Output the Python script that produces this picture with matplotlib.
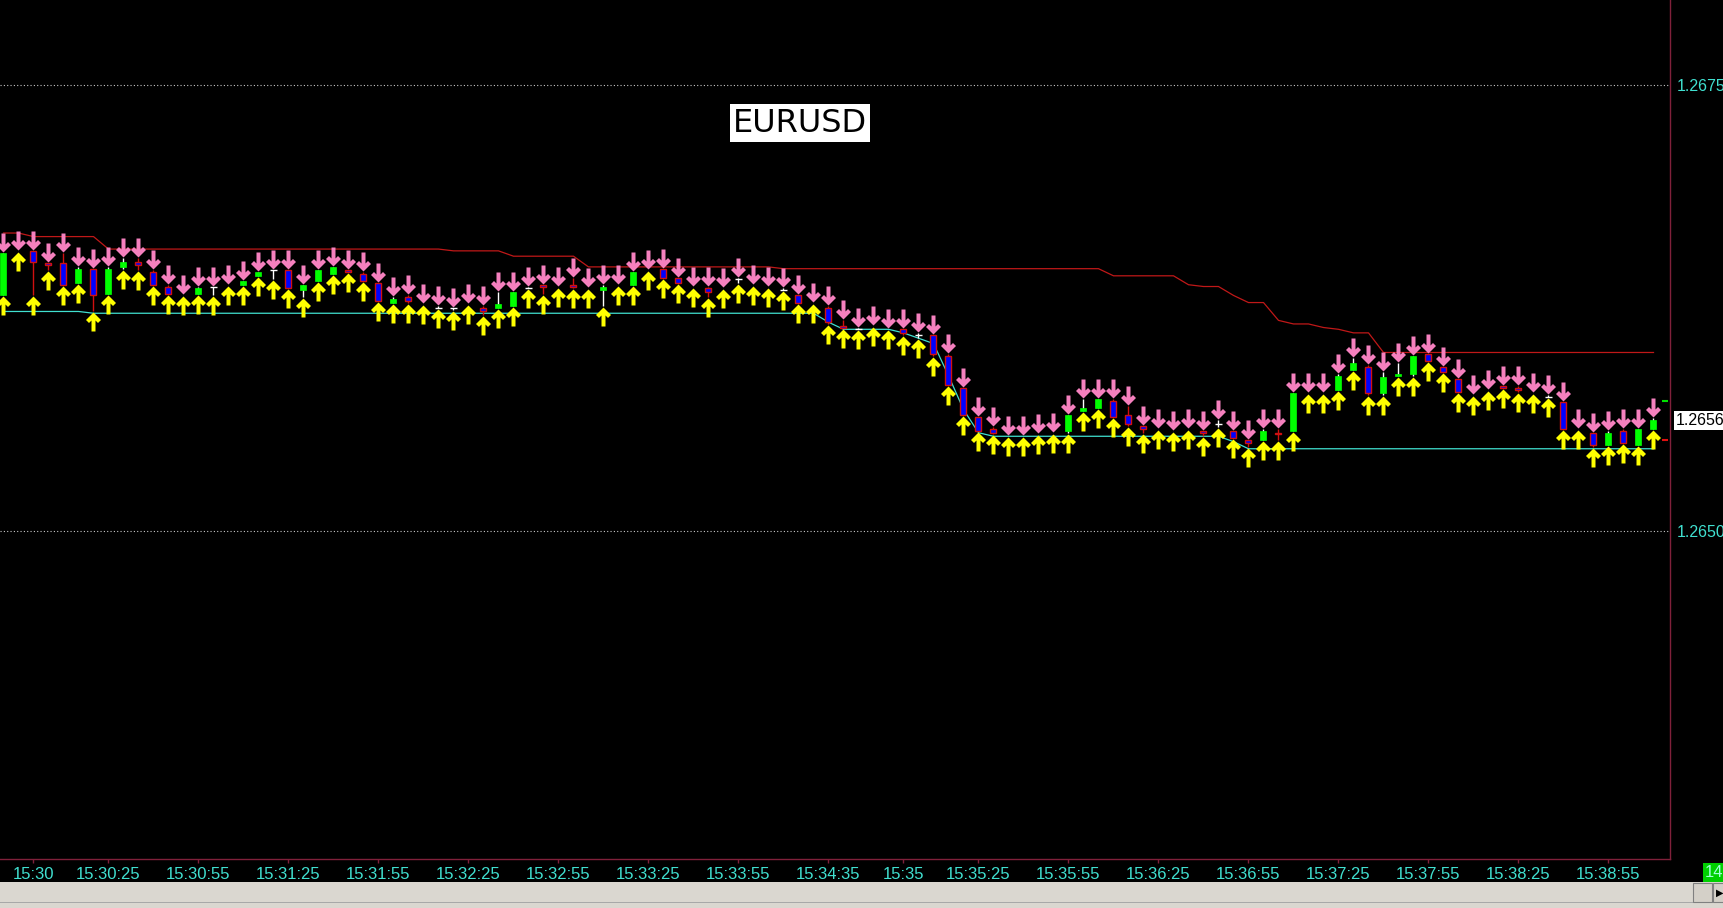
import numpy as np
import matplotlib.pyplot as plt
from matplotlib.path import Path
from matplotlib.patches import Rectangle

# EURUSD 5-second bars
opens = [1.26632, 1.26657, 1.26657, 1.26650, 1.26650, 1.26639, 1.26647, 1.26633, 1.26648, 1.26651,
         1.26645, 1.26637, 1.26632, 1.26633, 1.26637, 1.26638, 1.26638, 1.26643, 1.26646, 1.26646,
         1.26635, 1.26640, 1.26644, 1.26646, 1.26644, 1.26639, 1.26628, 1.26631, 1.26627, 1.26625,
         1.26625, 1.26627, 1.26625, 1.26625, 1.26626, 1.26636, 1.26638, 1.26637, 1.26638, 1.26636,
         1.26635, 1.26638, 1.26638, 1.26646, 1.26647, 1.26642, 1.26637, 1.26636, 1.26636, 1.26641,
         1.26638, 1.26637, 1.26635, 1.26632, 1.26628, 1.26625, 1.26615, 1.26613, 1.26615, 1.26613,
         1.26613, 1.26610, 1.26610, 1.26598, 1.26580, 1.26564, 1.26557, 1.26553, 1.26553, 1.26554,
         1.26555, 1.26556, 1.26567, 1.26569, 1.26573, 1.26565, 1.26559, 1.26557, 1.26556, 1.26557,
         1.26556, 1.26560, 1.26556, 1.26551, 1.26551, 1.26555, 1.26556, 1.26577, 1.26577, 1.26579,
         1.26590, 1.26592, 1.26577, 1.26587, 1.26588, 1.26599, 1.26592, 1.26585, 1.26576, 1.26579,
         1.26581, 1.26580, 1.26577, 1.26575, 1.26572, 1.26557, 1.26555, 1.26548, 1.26556, 1.26548,
         1.26557]
highs = [1.26656, 1.26657, 1.26657, 1.26650, 1.26656, 1.26648, 1.26647, 1.26648, 1.26653, 1.26653,
         1.26646, 1.26638, 1.26632, 1.26637, 1.26637, 1.26638, 1.26640, 1.26645, 1.26646, 1.26646,
         1.26638, 1.26646, 1.26648, 1.26646, 1.26645, 1.26639, 1.26631, 1.26632, 1.26627, 1.26626,
         1.26625, 1.26627, 1.26626, 1.26634, 1.26634, 1.26637, 1.26638, 1.26637, 1.26642, 1.26636,
         1.26638, 1.26638, 1.26645, 1.26646, 1.26647, 1.26642, 1.26637, 1.26637, 1.26636, 1.26642,
         1.26638, 1.26637, 1.26636, 1.26632, 1.26628, 1.26626, 1.26618, 1.26614, 1.26615, 1.26613,
         1.26613, 1.26611, 1.26610, 1.26599, 1.26580, 1.26564, 1.26558, 1.26553, 1.26553, 1.26554,
         1.26555, 1.26565, 1.26574, 1.26574, 1.26574, 1.26570, 1.26559, 1.26557, 1.26556, 1.26557,
         1.26556, 1.26562, 1.26556, 1.26551, 1.26557, 1.26557, 1.26577, 1.26577, 1.26577, 1.26588,
         1.26597, 1.26593, 1.26589, 1.26594, 1.26598, 1.26599, 1.26592, 1.26585, 1.26576, 1.26579,
         1.26581, 1.26581, 1.26577, 1.26576, 1.26572, 1.26557, 1.26555, 1.26556, 1.26557, 1.26557,
         1.26563]
lows = [1.26632, 1.26657, 1.26632, 1.26646, 1.26638, 1.26639, 1.26623, 1.26633, 1.26647, 1.26646,
        1.26638, 1.26633, 1.26632, 1.26633, 1.26632, 1.26638, 1.26638, 1.26643, 1.26641, 1.26636,
        1.26631, 1.26640, 1.26644, 1.26645, 1.26640, 1.26629, 1.26628, 1.26628, 1.26627, 1.26625,
        1.26624, 1.26627, 1.26621, 1.26625, 1.26626, 1.26636, 1.26633, 1.26637, 1.26636, 1.26636,
        1.26626, 1.26638, 1.26638, 1.26646, 1.26642, 1.26639, 1.26637, 1.26631, 1.26636, 1.26639,
        1.26638, 1.26637, 1.26635, 1.26628, 1.26628, 1.26616, 1.26614, 1.26613, 1.26615, 1.26613,
        1.26610, 1.26608, 1.26598, 1.26582, 1.26565, 1.26556, 1.26554, 1.26553, 1.26553, 1.26554,
        1.26555, 1.26555, 1.26567, 1.26569, 1.26564, 1.26559, 1.26555, 1.26557, 1.26556, 1.26557,
        1.26553, 1.26558, 1.26552, 1.26547, 1.26551, 1.26551, 1.26556, 1.26577, 1.26577, 1.26579,
        1.26590, 1.26576, 1.26576, 1.26587, 1.26587, 1.26595, 1.26589, 1.26578, 1.26576, 1.26579,
        1.26580, 1.26578, 1.26577, 1.26575, 1.26557, 1.26557, 1.26547, 1.26548, 1.26549, 1.26548,
        1.26557]
closes = [1.26656, 1.26657, 1.26651, 1.26649, 1.26638, 1.26647, 1.26632, 1.26647, 1.26651, 1.26649,
          1.26638, 1.26633, 1.26632, 1.26636, 1.26637, 1.26638, 1.26640, 1.26645, 1.26646, 1.26636,
          1.26638, 1.26646, 1.26648, 1.26645, 1.26640, 1.26629, 1.26630, 1.26629, 1.26627, 1.26625,
          1.26625, 1.26627, 1.26623, 1.26627, 1.26634, 1.26636, 1.26637, 1.26637, 1.26637, 1.26636,
          1.26637, 1.26638, 1.26645, 1.26646, 1.26642, 1.26639, 1.26637, 1.26634, 1.26636, 1.26641,
          1.26638, 1.26637, 1.26635, 1.26628, 1.26628, 1.26617, 1.26614, 1.26613, 1.26615, 1.26613,
          1.26611, 1.26610, 1.26599, 1.26582, 1.26565, 1.26556, 1.26555, 1.26553, 1.26553, 1.26554,
          1.26555, 1.26565, 1.26569, 1.26574, 1.26564, 1.26560, 1.26557, 1.26557, 1.26556, 1.26557,
          1.26555, 1.26560, 1.26552, 1.26549, 1.26556, 1.26554, 1.26577, 1.26577, 1.26577, 1.26587,
          1.26594, 1.26577, 1.26586, 1.26588, 1.26598, 1.26595, 1.26589, 1.26578, 1.26576, 1.26579,
          1.26580, 1.26579, 1.26577, 1.26575, 1.26557, 1.26557, 1.26548, 1.26555, 1.26549, 1.26557,
          1.26562]

# red (upper) and turquoise (lower) channel lines
upper_line = [1.26667, 1.26667, 1.26665, 1.26665, 1.26665, 1.26665, 1.26665, 1.26658, 1.26658, 1.26658,
              1.26658, 1.26658, 1.26658, 1.26658, 1.26658, 1.26658, 1.26658, 1.26658, 1.26658, 1.26658,
              1.26658, 1.26658, 1.26658, 1.26658, 1.26658, 1.26658, 1.26658, 1.26658, 1.26658, 1.26658,
              1.26657, 1.26657, 1.26657, 1.26657, 1.26654, 1.26654, 1.26654, 1.26654, 1.26654, 1.26648,
              1.26648, 1.26648, 1.26648, 1.26648, 1.26648, 1.26648, 1.26648, 1.26648, 1.26648, 1.26648,
              1.26648, 1.26648, 1.26647, 1.26647, 1.26647, 1.26647, 1.26647, 1.26647, 1.26647, 1.26647,
              1.26647, 1.26647, 1.26647, 1.26647, 1.26647, 1.26647, 1.26647, 1.26647, 1.26647, 1.26647,
              1.26647, 1.26647, 1.26647, 1.26647, 1.26643, 1.26643, 1.26643, 1.26643, 1.26643, 1.26638,
              1.26637, 1.26637, 1.26632, 1.26628, 1.26628, 1.26618, 1.26616, 1.26616, 1.26614, 1.26613,
              1.26611, 1.26611, 1.26600, 1.26600, 1.26600, 1.26600, 1.26600, 1.26600, 1.26600, 1.26600,
              1.26600, 1.26600, 1.26600, 1.26600, 1.26600, 1.26600, 1.26600, 1.26600, 1.26600, 1.26600,
              1.26600]
lower_line = [1.26623, 1.26623, 1.26623, 1.26623, 1.26623, 1.26623, 1.26622, 1.26622, 1.26622, 1.26622,
              1.26622, 1.26622, 1.26622, 1.26622, 1.26622, 1.26622, 1.26622, 1.26622, 1.26622, 1.26622,
              1.26622, 1.26622, 1.26622, 1.26622, 1.26622, 1.26622, 1.26622, 1.26622, 1.26622, 1.26622,
              1.26622, 1.26622, 1.26622, 1.26622, 1.26622, 1.26622, 1.26622, 1.26622, 1.26622, 1.26622,
              1.26622, 1.26622, 1.26622, 1.26622, 1.26622, 1.26622, 1.26622, 1.26622, 1.26622, 1.26622,
              1.26622, 1.26622, 1.26622, 1.26622, 1.26622, 1.26617, 1.26613, 1.26613, 1.26613, 1.26613,
              1.26611, 1.26608, 1.26605, 1.26587, 1.26568, 1.26555, 1.26553, 1.26553, 1.26553, 1.26553,
              1.26553, 1.26553, 1.26553, 1.26553, 1.26553, 1.26553, 1.26553, 1.26553, 1.26553, 1.26553,
              1.26553, 1.26553, 1.26550, 1.26546, 1.26546, 1.26546, 1.26546, 1.26546, 1.26546, 1.26546,
              1.26546, 1.26546, 1.26546, 1.26546, 1.26546, 1.26546, 1.26546, 1.26546, 1.26546, 1.26546,
              1.26546, 1.26546, 1.26546, 1.26546, 1.26546, 1.26546, 1.26546, 1.26546, 1.26546, 1.26546,
              1.26546]

tick_bars = [2, 7, 13, 19, 25, 31, 37, 43, 49, 55, 60, 65, 71, 77, 83, 89, 95, 101, 107]
tick_labels = ['15:30', '15:30:25', '15:30:55', '15:31:25', '15:31:55', '15:32:25', '15:32:55',
               '15:33:25', '15:33:55', '15:34:35', '15:35', '15:35:25', '15:35:55', '15:36:25',
               '15:36:55', '15:37:25', '15:37:55', '15:38:25', '15:38:55']
price_ticks = [1.2650, 1.2675]
ask_mark = 1.26573
bid_mark = 1.26551

W, H = 1723, 908
BG = 'black'
AXIS = '#80203A'
CYAN = '#40E0D0'
PINK = '#F580BE'
YELLOW = '#FFFF00'

# arrow glyphs in pixel units, tip near the origin
down_verts = [(0, 1), (7.5, 8.5), (4.5, 11.5), (2, 9), (2, 20), (-2, 20),
              (-2, 9), (-4.5, 11.5), (-7.5, 8.5), (0, 1)]
down_arrow = Path(down_verts, closed=True)
up_arrow = Path([(vx, -vy) for vx, vy in down_verts], closed=True)
ARROW_MS = 40 * 0.72

fig = plt.figure(figsize=(W / 100, H / 100), dpi=100, facecolor=BG)
ax = fig.add_axes([0, 1 - 859 / H, 1670 / W, 859 / H])
ax.set_facecolor(BG)

x = np.arange(len(closes))
o = np.array(opens)
hi = np.array(highs)
lo = np.array(lows)
c = np.array(closes)
bull = c > o
bear = c < o
doji = c == o

ax.plot(x, upper_line, color='#C01818', lw=0.9, zorder=2)
ax.plot(x, lower_line, color=CYAN, lw=0.9, zorder=2)

# candles
ax.vlines(x[bull], lo[bull], hi[bull], color='white', lw=1, zorder=3)
ax.vlines(x[bear], lo[bear], hi[bear], color='#D01010', lw=1, zorder=3)
ax.vlines(x[doji], lo[doji], hi[doji], color='white', lw=1, zorder=3)
ax.bar(x[bull], c[bull] - o[bull], bottom=o[bull], width=0.4,
       color='#00FF00', edgecolor='#00FF00', lw=0.5, zorder=4)
ax.bar(x[bear], o[bear] - c[bear], bottom=c[bear], width=0.4,
       color='#0000FF', edgecolor='#D01010', lw=1, zorder=4)
dj = doji & (hi > lo)
ax.hlines(c[dj], x[dj] - 0.25, x[dj] + 0.25, color='white', lw=1, zorder=4)

ax.plot(x, hi, ls='none', marker=down_arrow, ms=ARROW_MS, mfc=PINK, mec='none', zorder=5)
ax.plot(x, lo, ls='none', marker=up_arrow, ms=ARROW_MS, mfc=YELLOW, mec='none', zorder=5)

side_x = len(closes) - 0.23
ax.plot([side_x], [ask_mark], ls='none', marker='_', ms=5, mew=1.5, color='#00E000', zorder=5)
ax.plot([side_x], [bid_mark], ls='none', marker='_', ms=5, mew=1.5, color='#E01010', zorder=5)

ax.set_xlim(-0.233, 111.1)
ax.set_ylim(1.263159, 1.267977)

for s in ['left', 'top']:
    ax.spines[s].set_visible(False)
for s in ['bottom', 'right']:
    ax.spines[s].set_color(AXIS)
    ax.spines[s].set_linewidth(1)

ax.set_xticks(tick_bars)
ax.set_xticklabels(tick_labels)
ax.tick_params(axis='x', colors=AXIS, labelcolor=CYAN, length=3, width=1, pad=2.5,
               labelsize=12)
ax.yaxis.tick_right()
ax.set_yticks(price_ticks)
ax.set_yticklabels([f'{p:.4f}' for p in price_ticks])
ax.tick_params(axis='y', length=0, pad=4.5, labelcolor=CYAN, labelsize=11.5)
for lab in ax.get_xticklabels() + ax.get_yticklabels():
    lab.set_family('Liberation Sans')
ax.grid(axis='y', color='#C8C8C8', linestyle=(0, (1, 2)), lw=0.8)
ax.set_axisbelow(True)

# current price label
ax.annotate(f'{closes[-1]:.4f}', xy=(1.0, closes[-1]), xycoords=('axes fraction', 'data'),
            xytext=(6, 0), textcoords='offset pixels', va='center', ha='left',
            fontsize=11.5, family='Liberation Sans', color='black',
            bbox=dict(boxstyle='square,pad=0.12', fc='white', ec='none'))

fig.text(800 / W, 1 - 123 / H, 'EURUSD', ha='center', va='center', fontsize=23,
         color='black', family='DejaVu Sans',
         bbox=dict(boxstyle='square,pad=0.1', fc='white', ec='none'))

# window chrome at the bottom
fig.add_artist(Rectangle((0, 0), 1, 26 / H, transform=fig.transFigure,
                         fc='#DAD7D0', ec='none'))
fig.add_artist(Rectangle((0, 5 / H), 1, 1.2 / H, transform=fig.transFigure,
                         fc='#A8A8A8', ec='none'))
fig.add_artist(Rectangle((1693 / W, 6 / H), 19 / W, 19 / H, transform=fig.transFigure,
                         fc='#D4D0C8', ec='#808080', lw=0.8))
fig.add_artist(Rectangle((1713 / W, 6 / H), 12 / W, 19 / H, transform=fig.transFigure,
                         fc='#D4D0C8', ec='#808080', lw=0.8))
fig.text(1716 / W, 15 / H, '\u25B6', fontsize=7, color='black', va='center', ha='left')
fig.add_artist(Rectangle((1703 / W, 26 / H), 22 / W, 19 / H, transform=fig.transFigure,
                         fc='#00D000', ec='none'))
fig.text(1705 / W, 35.5 / H, '14', fontsize=12, color='#9FFFD8', va='center', ha='left',
         family='Liberation Sans')

fig.savefig('out.png', dpi=100, facecolor=BG)
